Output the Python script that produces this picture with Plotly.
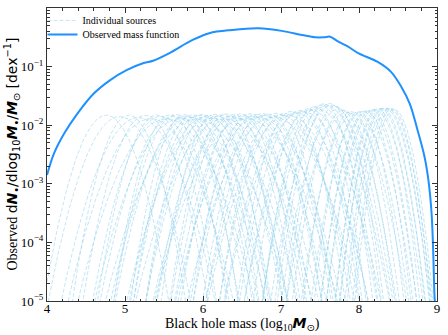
import numpy as np
import plotly.graph_objects as go

# observed mass function
mass_obs = [4.0, 4.09, 4.22, 4.39, 4.60, 4.81, 5.02, 5.24, 5.36, 5.57, 5.86, 6.08, 6.37,
            6.71, 7.01, 7.27, 7.44, 7.55, 7.63, 7.73, 7.86, 7.99, 8.24, 8.41, 8.54, 8.65,
            8.75, 8.84, 8.89, 8.93, 8.95, 8.97, 8.98]
phi_obs = [1.41e-3, 3.31e-3, 7.24e-3, 0.0158, 0.0347, 0.0589, 0.0871, 0.115, 0.126, 0.170,
           0.282, 0.372, 0.422, 0.450, 0.407, 0.347, 0.316, 0.316, 0.324, 0.269, 0.219,
           0.170, 0.120, 0.0813, 0.0457, 0.0234, 8.3e-3, 2.9e-3, 1.15e-3, 3.2e-4, 7.9e-5,
           1.1e-5, 8e-6]

# individual sources: centre (log M), width (dex), peak height
src_center = [4.76, 4.93, 5.05, 5.17, 5.26, 5.33, 5.41, 5.46, 5.53, 5.58,
              5.63, 5.66, 5.71, 5.76, 5.79, 5.84, 5.87, 5.92, 5.95, 5.99,
              6.04, 6.07, 6.12, 6.15, 6.18, 6.24, 6.27, 6.30, 6.36, 6.39,
              6.42, 6.48, 6.51, 6.55, 6.60, 6.63, 6.68, 6.71, 6.76, 6.79,
              6.84, 6.90, 6.94, 6.99, 7.05, 7.09, 7.13, 7.19, 7.24, 7.28,
              7.34, 7.38, 7.43, 7.46, 7.50, 7.55, 7.58, 7.62, 7.65, 7.69,
              7.74, 7.80, 7.84, 7.90, 7.95, 8.00, 8.04, 8.09, 8.12, 8.16,
              8.20, 8.24, 8.27, 8.30, 8.33, 8.36, 8.39, 8.42, 8.45]
src_width = [0.21, 0.24, 0.19, 0.26, 0.21, 0.28, 0.20, 0.23, 0.30, 0.19,
             0.25, 0.21, 0.29, 0.18, 0.24, 0.27, 0.20, 0.31, 0.22, 0.19,
             0.26, 0.21, 0.29, 0.18, 0.24, 0.22, 0.30, 0.19, 0.25, 0.21,
             0.28, 0.20, 0.23, 0.31, 0.19, 0.25, 0.22, 0.28, 0.20, 0.24,
             0.21, 0.29, 0.19, 0.25, 0.22, 0.27, 0.18, 0.24, 0.20, 0.26,
             0.18, 0.22, 0.17, 0.24, 0.19, 0.16, 0.21, 0.17, 0.20, 0.16,
             0.19, 0.17, 0.20, 0.16, 0.18, 0.15, 0.17, 0.15, 0.16, 0.15,
             0.16, 0.14, 0.15, 0.14, 0.15, 0.14, 0.14, 0.13, 0.13]
src_peak = [0.0148, 0.0140, 0.0148, 0.0135, 0.0147, 0.0130, 0.0149, 0.0142, 0.0128, 0.0150,
            0.0140, 0.0152, 0.0131, 0.0151, 0.0143, 0.0136, 0.0150, 0.0127, 0.0147, 0.0153,
            0.0139, 0.0148, 0.0132, 0.0154, 0.0142, 0.0150, 0.0129, 0.0155, 0.0141, 0.0151,
            0.0134, 0.0156, 0.0146, 0.0130, 0.0157, 0.0143, 0.0152, 0.0136, 0.0158, 0.0147,
            0.0155, 0.0138, 0.0160, 0.0150, 0.0158, 0.0148, 0.0172, 0.0162, 0.0178, 0.0170,
            0.0190, 0.0185, 0.0205, 0.0190, 0.0220, 0.0232, 0.0215, 0.0235, 0.0220, 0.0212,
            0.0190, 0.0180, 0.0165, 0.0170, 0.0164, 0.0168, 0.0171, 0.0175, 0.0178, 0.0182,
            0.0186, 0.0190, 0.0192, 0.0195, 0.0196, 0.0195, 0.0193, 0.0190, 0.0186]

ytick_vals = [1e-5, 1e-4, 1e-3, 1e-2, 1e-1, 1]
ytick_text = ["10<sup>\u22125</sup>", "10<sup>\u22124</sup>", "10<sup>\u22123</sup>",
              "10<sup>\u22122</sup>", "10<sup>\u22121</sup>", "10<sup>0</sup>"]
yminor = [k * 10.0 ** e for e in range(-5, 0) for k in range(2, 10)]

grid = np.linspace(4, 9, 400)

fig = go.Figure()
for i, (c, s, p) in enumerate(zip(src_center, src_width, src_peak)):
    y = p * np.exp(-0.5 * ((grid - c) / s) ** 2)
    y = np.where(y > 3e-6, y, np.nan)
    fig.add_trace(go.Scatter(
        x=grid, y=y, mode="lines",
        line=dict(color="rgba(135,206,235,0.5)", width=1, dash="4px,2px"),
        name="Individual sources", showlegend=(i == 0), legend="legend",
        hoverinfo="skip"))

fig.add_trace(go.Scatter(
    x=mass_obs, y=phi_obs, mode="lines", line_shape="spline",
    line=dict(color="#1E90FF", width=2), name="Observed mass function",
    legend="legend2"))

serif = "Liberation Serif"
ytitle = ("Observed <span style='font-family:DejaVu Sans'>d<b><i>N</i></b><sub>\u2022</sub>"
          "/dlog<sub>10</sub><b><i>M</i></b><sub>\u2022</sub>/<b><i>M</i></b><sub>\u2299</sub>"
          " [dex<sup>\u22121</sup>]</span>")
xtitle = ("Black hole mass (log<sub>10</sub><span style='font-family:DejaVu Sans'>"
          "<b><i>M</i></b><sub>\u2299</sub></span>)")

leg = dict(xanchor="left", yanchor="middle",
           bgcolor="rgba(0,0,0,0)", font=dict(size=10, family=serif), itemwidth=30)

fig.update_layout(
    width=448, height=335,
    margin=dict(l=47, r=11, t=8, b=34, autoexpand=False),
    paper_bgcolor="white", plot_bgcolor="white",
    font=dict(family=serif, size=13, color="black"),
    showlegend=True,
    legend=dict(leg, x=-0.0115, y=0.9575),
    legend2=dict(leg, x=-0.0115, y=0.9095),
    annotations=[
        dict(text=xtitle, xref="paper", yref="paper", x=0.5, y=-23 / 293,
             xanchor="center", yanchor="middle", showarrow=False, font=dict(size=14)),
        dict(text=ytitle, xref="paper", yref="paper", x=-35 / 390, y=0.5,
             xanchor="center", yanchor="middle", textangle=-90, showarrow=False,
             font=dict(size=14)),
    ],
)
fig.update_xaxes(
    range=[4, 9], tickvals=[4, 5, 6, 7, 8, 9], automargin=False,
    ticks="inside", ticklen=5, tickcolor="#333", mirror="allticks",
    showline=True, linecolor="#333", linewidth=1, showgrid=False, zeroline=False,
    minor=dict(dtick=0.2, ticks="inside", ticklen=2.5, tickcolor="#333", showgrid=False),
    tickfont=dict(size=13),
)
try:
    # pull the x tick labels a bit closer to the axis
    fig.update_xaxes(ticklabelstandoff=-5)
except ValueError:
    pass
fig.update_yaxes(
    type="log", range=[-5, 0], tickvals=ytick_vals, ticktext=ytick_text, automargin=False,
    ticks="inside", ticklen=5, tickcolor="#333", mirror="allticks",
    showline=True, linecolor="#333", linewidth=1, showgrid=False, zeroline=False,
    minor=dict(tickvals=yminor, ticks="inside", ticklen=2.5, tickcolor="#333", showgrid=False),
    tickfont=dict(size=13),
)

# page body has a default 8px margin; drop it so the figure sits at the window corner
fig.write_html("out.html", config={"displayModeBar": False},
               post_script="document.body.style.margin='0px';")
